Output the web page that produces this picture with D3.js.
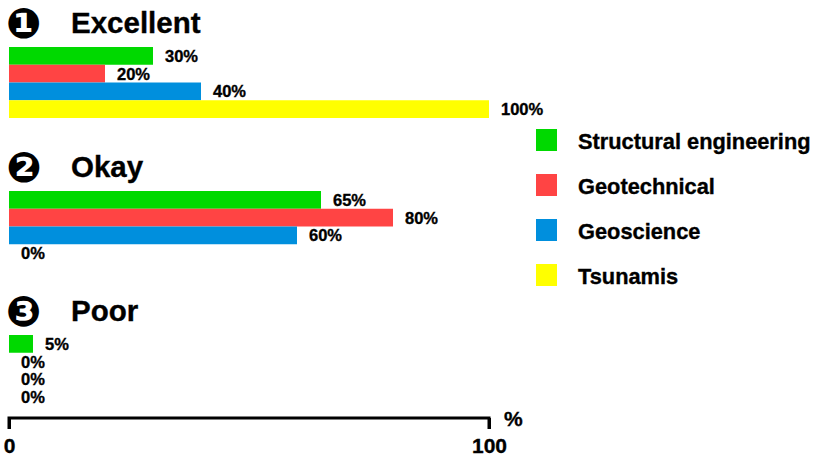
<!DOCTYPE html>
<html><head><meta charset="utf-8">
<script src="https://cdn.jsdelivr.net/npm/d3@7"></script>
<style>body{margin:0;background:#fff}text{font-family:"Liberation Sans",Arial,sans-serif;font-weight:bold;fill:#000;stroke:#000;stroke-width:0.35px}</style>
</head><body>
<svg id="c" width="815" height="460"></svg>
<script>
const groups = ["Excellent","Okay","Poor"];
const groupMarks = ["\u2776","\u2777","\u2778"];
const series = ["Structural engineering","Geotechnical","Geoscience","Tsunamis"];
const colors = ["#00d900","#ff4444","#008fdd","#ffff00"];
const excellent = [30,20,40,100];
const okay = [65,80,60,0];
const poor = [5,0,0,0];
const values = [excellent, okay, poor];
const xTicks = [0,100];

const svg = d3.select("#c");
const x = d3.scaleLinear().domain([0,100]).range([9,489]);
const gy = d3.scaleBand().domain(groups).range([0,432]);
const by = d3.scaleBand().domain(series).range([0,71]);

groups.forEach((g,gi)=>{
  const top = gy(g);
  const grp = svg.append("g").attr("transform",`translate(0,${top})`);
  grp.append("text").attr("x",6).attr("y",38).style("font-family","DejaVu Sans").style("font-size","42px").style("stroke","none").text(groupMarks[gi]);
  grp.append("text").attr("x",71).attr("y",33).style("font-size","29.5px").text(g);
  const bars = grp.append("g").attr("transform","translate(0,47)");
  series.forEach((s,si)=>{
    const v = values[gi][si];
    bars.append("rect").attr("x",x(0)).attr("y",by(s)).attr("width",x(v)-x(0)).attr("height",by.bandwidth()).attr("fill",colors[si]);
    bars.append("text").attr("x",x(v)+12).attr("y",by(s)+by.bandwidth()/2+6).style("font-size","16.5px").text(v+"%");
  });
});

const axis = d3.axisBottom(x).tickValues(xTicks).tickSize(11).tickPadding(9).tickFormat(d3.format("d"));
const ag = svg.append("g").attr("transform","translate(0,418)").call(axis);
ag.select(".domain").attr("stroke","#000").attr("stroke-width",3).attr("d",`M${x(0)},11V0H${x(100)}V11`);
ag.selectAll(".tick line").attr("stroke","#000").attr("stroke-width",3);
ag.selectAll(".tick text").style("font-size","21px").attr("fill","#000").attr("font-family",null);
svg.append("text").attr("x",504).attr("y",426).style("font-size","21px").text("%");

const leg = svg.append("g");
const ly = d3.scaleBand().domain(series).range([118,298]);
series.forEach((s,si)=>{
  leg.append("rect").attr("x",536).attr("y",ly(s)+11).attr("width",21).attr("height",22).attr("fill",colors[si]);
  leg.append("text").attr("x",578).attr("y",ly(s)+31).style("font-size","21.8px").text(s);
});
</script>
</body></html>
